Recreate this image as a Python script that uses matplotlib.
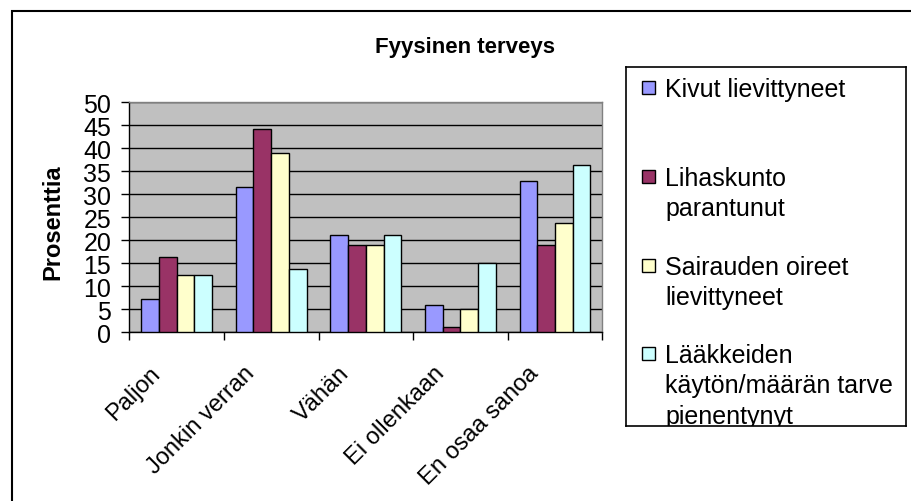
import matplotlib
matplotlib.use("Agg")
import matplotlib.pyplot as plt
import matplotlib.transforms as mtransforms
from matplotlib.patches import Rectangle
import numpy as np

# ---------------- data ----------------
categories = ["Paljon", "Jonkin verran", "Vähän", "Ei ollenkaan", "En osaa sanoa"]
series_names = ["Kivut lievittyneet",
                "Lihaskunto\nparantunut",
                "Sairauden oireet\nlievittyneet",
                "Lääkkeiden\nkäytön/määrän tarve\npienentynyt"]
kivut = [7.2, 31.6, 21.2, 5.9, 33.0]
lihaskunto = [16.3, 44.3, 19.0, 1.1, 19.0]
sairauden = [12.4, 39.0, 19.0, 5.1, 23.8]
laakkeiden = [12.4, 13.8, 21.2, 15.1, 36.4]
series_values = [kivut, lihaskunto, sairauden, laakkeiden]
yticks = [0, 5, 10, 15, 20, 25, 30, 35, 40, 45, 50]
title = "Fyysinen terveys"
ylabel = "Prosenttia"

# ---------------- style ----------------
colors = ["#9999FF", "#993366", "#FFFFCC", "#CCFFFF"]
plt.rcParams["font.family"] = ["Liberation Sans", "DejaVu Sans"]

W, H, DPI = 912, 502, 100
fig = plt.figure(figsize=(W / DPI, H / DPI), dpi=DPI)
fig.patch.set_facecolor("white")

def fx(px):
    return px / W

def fy(py):
    return 1 - py / H

# outer chart border (extends past right/bottom edges)
fig.patches.append(Rectangle((fx(12), fy(520)), fx(920) - fx(12), fy(12) - fy(520),
                             transform=fig.transFigure, fill=False,
                             edgecolor="black", linewidth=1.5, zorder=0))

# plot area
L, R, T, B = 129.3, 602.3, 103.3, 333.3
ax = fig.add_axes([fx(L), fy(B), fx(R) - fx(L), (B - T) / H])
ax.set_facecolor("#C0C0C0")

n_cat = len(categories)
n_ser = len(series_values)
x = np.arange(n_cat)
bw = 0.1875
for i, (vals, c) in enumerate(zip(series_values, colors)):
    ax.bar(x - 2 * bw + bw / 2 + i * bw, vals, width=bw, color=c,
           edgecolor="black", linewidth=1.0, zorder=3)

ax.set_xlim(-0.5, n_cat - 0.5)
ax.set_ylim(0, 50)
ax.set_yticks(yticks)
ax.yaxis.grid(True, color="black", linewidth=1.0, zorder=1)
ax.set_axisbelow(True)

for s in ["top", "right"]:
    ax.spines[s].set_color("#808080")
    ax.spines[s].set_linewidth(1.0)
for s in ["left", "bottom"]:
    ax.spines[s].set_color("black")
    ax.spines[s].set_linewidth(1.0)

ax.tick_params(axis="y", direction="out", length=6, width=1.0, pad=7,
               labelsize=18, colors="black")
ax.set_yticklabels([str(v) for v in yticks], fontsize=18)

ax.set_xticks(x)
ax.set_xticklabels(categories, rotation=45, ha="right", va="top", fontsize=17)
ax.set_xticks(np.arange(n_cat + 1) - 0.5, minor=True)
ax.tick_params(axis="x", which="major", length=0, pad=21)
ax.tick_params(axis="x", which="minor", length=6, width=1.0, direction="out")
offset = mtransforms.ScaledTranslation(-12 / DPI, 0, fig.dpi_scale_trans)
for lbl in ax.get_xticklabels():
    lbl.set_transform(lbl.get_transform() + offset)

# title and y label
fig.text(fx(465.5), fy(53), title, ha="center", va="baseline",
         fontsize=16, fontweight="bold")
fig.text(fx(53), fy(222), ylabel, ha="center", va="center", rotation=90,
         fontsize=17, fontweight="bold")

# legend box (manual, clipped like the original)
LL, LR, LT, LB = 626, 906, 68, 427
lax = fig.add_axes([fx(LL), fy(LB), fx(LR) - fx(LL), (LB - LT) / H])
lax.set_xlim(0, LR - LL)
lax.set_ylim(LB - LT, 0)
lax.set_xticks([])
lax.set_yticks([])
lax.set_facecolor("white")
for s in lax.spines.values():
    s.set_color("black")
    s.set_linewidth(1.2)

entry_baselines = [28.7, 118, 207, 295]
line_step = 30.5
for name, c, yb in zip(series_names, colors, entry_baselines):
    lax.add_patch(Rectangle((15.7, yb - 15), 13, 13, facecolor=c,
                            edgecolor="black", linewidth=1.0))
    for k, line in enumerate(name.split("\n")):
        lax.text(39, yb + k * line_step, line, fontsize=18, ha="left",
                 va="baseline", clip_on=True)

fig.savefig("out.png", dpi=DPI, facecolor="white")
